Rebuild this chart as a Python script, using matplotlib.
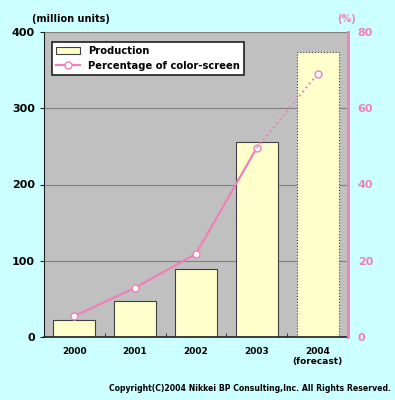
import matplotlib.pyplot as plt
import numpy as np

years = ["2000", "2001", "2002", "2003", "2004\n(forecast)"]
production = [22, 47, 89, 256, 374]
color_pct = [5.5, 12.9, 21.8, 49.6, 69.0]

pink = "#f080b8"
bg = "#ccffff"

fig = plt.figure(figsize=(3.95, 4.0), dpi=100, facecolor=bg)
ax = fig.add_axes([0.111, 0.1575, 0.770, 0.7625])
ax.set_facecolor("#c0c0c0")

x = np.arange(len(years))

# bars: last one (forecast) with dotted edge
bars = ax.bar(x, production, width=0.69, color="#ffffcc", edgecolor="#404040",
              linewidth=0.8, label="Production", zorder=2)
bars[-1].set_linestyle(":")

ax.set_ylim(0, 400)
ax.set_xlim(-0.5, len(years) - 0.5)
ax.set_yticks([0, 100, 200, 300, 400])
ax.yaxis.grid(True, color="#808080", linewidth=0.8, zorder=1)
ax.set_axisbelow(True)
ax.set_xticks(x)
ax.set_xticklabels(years, fontsize=6.5, fontweight="bold")
ax.set_xticks(x[:-1] + 0.5, minor=True)
ax.tick_params(axis="x", which="major", length=0, pad=7)
ax.tick_params(axis="x", which="minor", length=3, direction="in", color="#202020")
ax.tick_params(axis="y", labelsize=8, length=3, color="#202020")
for lbl in ax.get_yticklabels():
    lbl.set_fontweight("bold")
ax.spines["top"].set_visible(False)
ax.spines["right"].set_visible(False)
ax.spines["left"].set_color("#202020")
ax.spines["bottom"].set_color("#202020")
ax.spines["bottom"].set_linewidth(1.2)

# right axis for percentage
ax2 = ax.twinx()
ax2.set_ylim(0, 80)
ax2.set_yticks([0, 20, 40, 60, 80])
ax2.tick_params(axis="y", colors=pink, labelsize=8, length=0, pad=7)
for lbl in ax2.get_yticklabels():
    lbl.set_fontweight("bold")
ax2.spines["top"].set_visible(False)
ax2.spines["left"].set_visible(False)
ax2.spines["bottom"].set_visible(False)
ax2.spines["right"].set_color(pink)
ax2.spines["right"].set_linewidth(2)

line, = ax2.plot(x[:-1], color_pct[:-1], color=pink, linewidth=1.6,
                 marker="o", markersize=5, markerfacecolor="white",
                 markeredgecolor=pink, label="Percentage of color-screen")
ax2.plot(x[-2:], color_pct[-2:], color=pink, linewidth=1.4, linestyle=":")
ax2.plot(x[-1:], color_pct[-1:], linestyle="none", marker="o", markersize=5,
         markerfacecolor="white", markeredgecolor=pink)

leg = ax2.legend([bars, line], ["Production", "Percentage of color-screen"],
                 loc="upper left", bbox_to_anchor=(0.01, 0.985),
                 prop={"weight": "bold", "size": 7.2}, frameon=True, fancybox=False,
                 facecolor="white", framealpha=1, edgecolor="#202020",
                 borderpad=0.4, handlelength=2.4, labelspacing=0.5)
leg.get_frame().set_linewidth(1.2)

fig.text(0.08, 0.945, "(million units)", fontsize=7, fontweight="bold", ha="left")
fig.text(0.878, 0.945, "(%)", fontsize=7, fontweight="bold", color=pink, ha="center")
fig.text(0.99, 0.022, "Copyright(C)2004 Nikkei BP Consulting,Inc. All Rights Reserved.",
         fontsize=5.6, fontweight="bold", ha="right")

fig.savefig("out.png", dpi=100, facecolor=bg)
